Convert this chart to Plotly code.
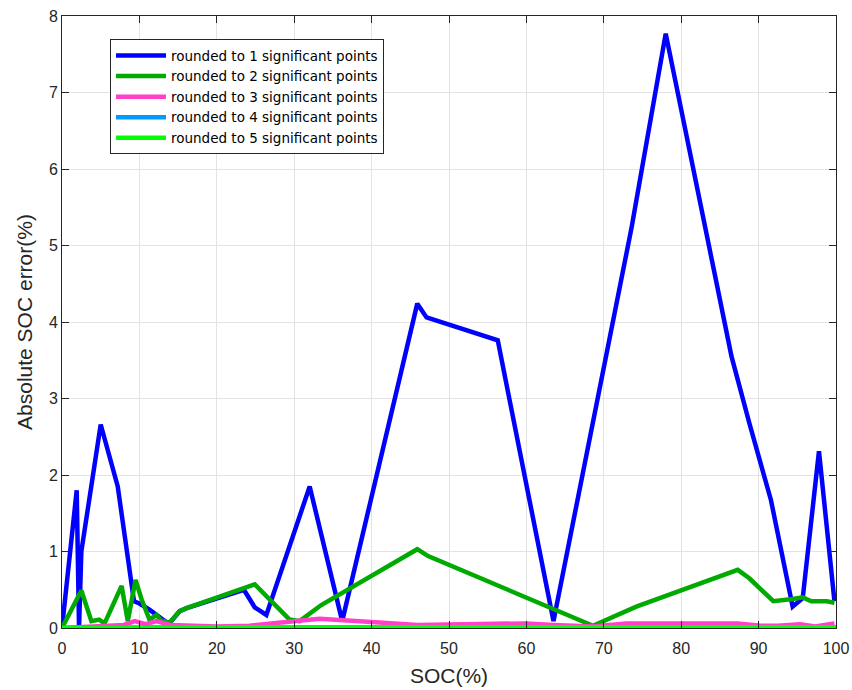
import plotly.graph_objects as go

# Absolute SOC error for each rounding precision, sampled along SOC (%)
soc_1 = [0, 1.9, 2.2, 2.5, 5.0, 7.2, 9.3, 10.0, 11.3, 12.2, 13.8, 15.2, 16.1, 23.5, 24.9, 26.4,
         32.0, 36.2, 45.9, 47.1, 56.3, 63.5, 73.6, 78.0, 86.5, 88.8, 91.6, 94.4, 95.7, 97.8, 99.8]
err_1 = [0, 1.80, 0.0, 1.0, 2.66, 1.85, 0.35, 0.32, 0.24, 0.17, 0.05, 0.22, 0.26, 0.50, 0.27, 0.17,
         1.85, 0.09, 4.24, 4.06, 3.76, 0.09, 5.24, 7.77, 3.55, 2.68, 1.67, 0.28, 0.39, 2.31, 0.35]

soc_2 = [0, 2.5, 3.8, 4.8, 5.5, 6.8, 7.7, 8.5, 9.5, 10.3, 11.3, 12.2, 12.8, 13.9, 15.2, 16.1,
         24.9, 29.4, 30.7, 33.5, 45.9, 47.3, 64.3, 68.6, 74.2, 87.3, 88.8, 91.9, 94.4, 95.7, 96.8,
         98.8, 99.8]
err_2 = [0, 0.49, 0.09, 0.11, 0.06, 0.33, 0.55, 0.09, 0.63, 0.37, 0.11, 0.17, 0.10, 0.07, 0.22, 0.26,
         0.57, 0.11, 0.09, 0.30, 1.03, 0.94, 0.22, 0.03, 0.28, 0.76, 0.65, 0.35, 0.38, 0.40, 0.35,
         0.35, 0.33]

soc_3 = [0, 5.0, 8.0, 9.4, 10.8, 12.2, 14.0, 20.0, 24.2, 28.0, 33.3, 40.0, 45.9, 52.0, 60.0, 63.5,
         68.6, 72.9, 80.0, 87.3, 90.3, 92.5, 95.4, 97.3, 99.8]
err_3 = [0, 0.03, 0.04, 0.09, 0.05, 0.09, 0.04, 0.02, 0.03, 0.07, 0.12, 0.08, 0.04, 0.05, 0.06, 0.04,
         0.02, 0.06, 0.06, 0.06, 0.03, 0.03, 0.05, 0.02, 0.06]

soc_4 = [0, 10, 20, 30, 40, 50, 60, 70, 80, 90, 100]
err_4 = [0, 0.01, 0.01, 0.01, 0.01, 0.01, 0.01, 0.01, 0.01, 0.01, 0.01]

soc_5 = [0, 10, 20, 30, 40, 50, 60, 70, 80, 90, 100]
err_5 = [0, 0.01, 0.01, 0.01, 0.01, 0.01, 0.01, 0.01, 0.01, 0.01, 0.01]

series = [
    ("rounded to 1 significant points", soc_1, err_1, "#0000ff"),
    ("rounded to 2 significant points", soc_2, err_2, "#00aa00"),
    ("rounded to 3 significant points", soc_3, err_3, "#ff40c8"),
    ("rounded to 4 significant points", soc_4, err_4, "#0099ff"),
    ("rounded to 5 significant points", soc_5, err_5, "#00ff00"),
]

x_ticks = list(range(0, 101, 10))
y_ticks = list(range(0, 9))

fig = go.Figure()
for name, xs, ys, color in series:
    fig.add_trace(go.Scatter(x=xs, y=ys, mode="lines", name=name,
                             line=dict(color=color, width=4.5)))

axis_style = dict(
    showline=True, linecolor="#262626", linewidth=1, mirror="ticks",
    ticks="inside", ticklen=7, tickcolor="#262626", tickwidth=1,
    showgrid=True, gridcolor="#e3e3e3", gridwidth=1, zeroline=False,
    tickfont=dict(size=16, color="#262626"), automargin=False,
)

fig.update_xaxes(range=[0, 100], tickvals=x_ticks, ticklabelstandoff=6,
                 title=dict(text="SOC(%)", font=dict(size=21, color="#262626"), standoff=12),
                 **axis_style)
fig.update_yaxes(range=[0, 8], tickvals=y_ticks,
                 title=dict(text="Absolute SOC error(%)", font=dict(size=21, color="#262626"),
                            standoff=10),
                 **axis_style)

fig.update_layout(
    width=852, height=690,
    margin=dict(l=62, r=16, t=16, b=62),
    paper_bgcolor="white", plot_bgcolor="white",
    font=dict(family="Liberation Sans, Arial, sans-serif", color="#262626"),
    legend=dict(x=0.062, y=0.962, xanchor="left", yanchor="top",
                bgcolor="white", bordercolor="#262626", borderwidth=1,
                font=dict(family="DejaVu Sans, sans-serif", size=13.5, color="#000000"),
                itemwidth=50, tracegroupgap=0),
    showlegend=True,
)

fig.write_html("out.html")
